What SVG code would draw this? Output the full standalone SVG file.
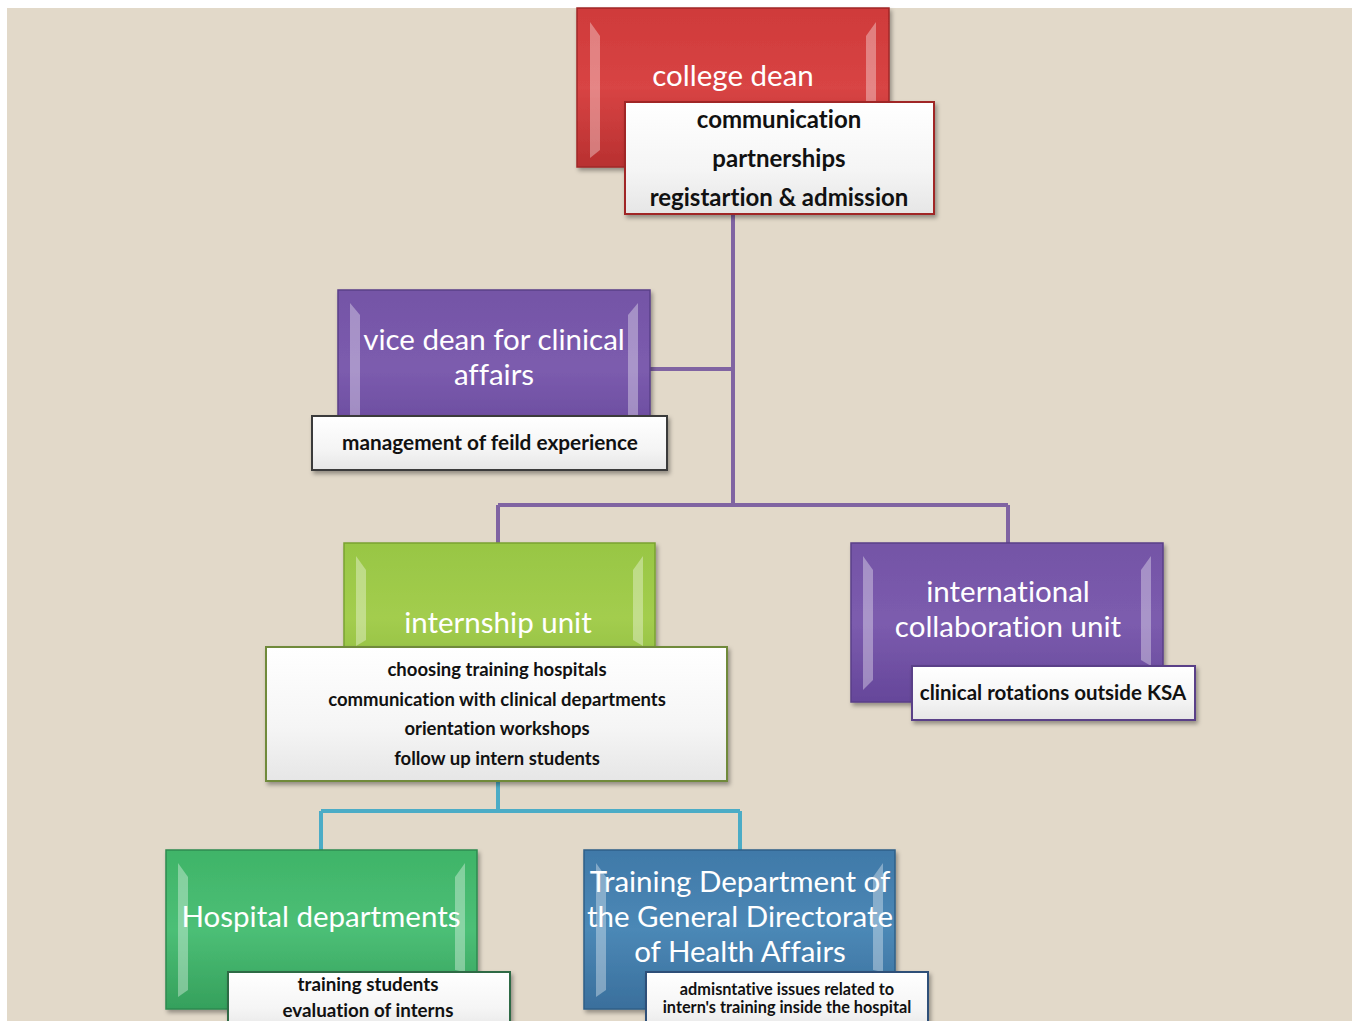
<svg xmlns="http://www.w3.org/2000/svg" width="1359" height="1021" viewBox="0 0 1359 1021">
<defs>
<style>
.t{font-family:Lato,"Open Sans","Liberation Sans",sans-serif;fill:#fff;font-size:29.5px;text-anchor:middle;font-variant-ligatures:none}
.b{font-family:Lato,"Open Sans","Liberation Sans",sans-serif;fill:#111;font-weight:bold;text-anchor:middle;font-variant-ligatures:none}
.cp{fill:none;stroke:#8064a2;stroke-width:4}
.cb{fill:none;stroke:#4bacc6;stroke-width:4}
.hl{fill:#fff;opacity:0.35}
</style>
<linearGradient id="gRed" x1="0" y1="0" x2="0" y2="1"><stop offset="0" stop-color="#cf3a3a"/><stop offset="0.5" stop-color="#d84444"/><stop offset="1" stop-color="#b83030"/></linearGradient>
<linearGradient id="gPur" x1="0" y1="0" x2="0" y2="1"><stop offset="0" stop-color="#7454a6"/><stop offset="0.5" stop-color="#7c5cae"/><stop offset="1" stop-color="#65469a"/></linearGradient>
<linearGradient id="gLime" x1="0" y1="0" x2="0" y2="1"><stop offset="0" stop-color="#98c644"/><stop offset="0.5" stop-color="#a3cd4e"/><stop offset="1" stop-color="#8cb83e"/></linearGradient>
<linearGradient id="gGrn" x1="0" y1="0" x2="0" y2="1"><stop offset="0" stop-color="#3fb468"/><stop offset="0.5" stop-color="#4cbf76"/><stop offset="1" stop-color="#35a05c"/></linearGradient>
<linearGradient id="gBlu" x1="0" y1="0" x2="0" y2="1"><stop offset="0" stop-color="#4079a8"/><stop offset="0.5" stop-color="#4b88b6"/><stop offset="1" stop-color="#3a6f9c"/></linearGradient>
<linearGradient id="gWht" x1="0" y1="0" x2="0" y2="1"><stop offset="0" stop-color="#ffffff"/><stop offset="0.6" stop-color="#f5f5f5"/><stop offset="1" stop-color="#e6e6e6"/></linearGradient>
<filter id="sh" x="-10%" y="-10%" width="130%" height="130%"><feDropShadow dx="2" dy="3" stdDeviation="2" flood-color="#000" flood-opacity="0.35"/></filter>
</defs>
<rect x="0" y="0" width="1359" height="1021" fill="#fff"/>
<rect x="7" y="8" width="1345" height="1013" fill="#e2d9c9"/>

<g id="connectors">
<path class="cp" d="M733 214V505M650 369H733M498 505H1008M498 505V543M1008 505V543"/>
<path class="cb" d="M498 781V811M321 811H740M321 811V850M740 811V850"/>
</g>

<g id="college-dean">
<rect x="577" y="8" width="312" height="159" fill="url(#gRed)" stroke="#a02828" stroke-width="1.5" filter="url(#sh)"/>
<polygon class="hl" points="590,22 600,36 600,150 590,158"/>
<polygon class="hl" points="876,22 866,36 866,150 876,158"/>
<text class="t" x="733" y="86">college dean</text>
<rect x="625" y="102" width="309" height="112" fill="url(#gWht)" stroke="#a02828" stroke-width="2" filter="url(#sh)"/>
<text class="b" x="779" y="128" font-size="24">communication</text>
<text class="b" x="779" y="167" font-size="24">partnerships</text>
<text class="b" x="779" y="206" font-size="24">registartion &amp; admission</text>
</g>

<g id="vice-dean">
<rect x="338" y="290" width="312" height="158" fill="url(#gPur)" stroke="#5a3f88" stroke-width="1.5" filter="url(#sh)"/>
<polygon class="hl" points="350,303 360,315 360,420 350,430"/>
<polygon class="hl" points="638,303 628,315 628,420 638,430"/>
<text class="t" x="494" y="350">vice dean for clinical</text>
<text class="t" x="494" y="385">affairs</text>
<rect x="312" y="416" width="355" height="54" fill="url(#gWht)" stroke="#3a3a3a" stroke-width="2" filter="url(#sh)"/>
<text class="b" x="490" y="450" font-size="20.8">management of feild experience</text>
</g>

<g id="internship-unit">
<rect x="344" y="543" width="311" height="150" fill="url(#gLime)" stroke="#7aa232" stroke-width="1.5" filter="url(#sh)"/>
<polygon class="hl" points="356,556 366,570 366,640 356,646"/>
<polygon class="hl" points="643,556 633,570 633,640 643,646"/>
<text class="t" x="498" y="633">internship unit</text>
<rect x="266" y="647" width="461" height="134" fill="url(#gWht)" stroke="#6f8a3a" stroke-width="2" filter="url(#sh)"/>
<text class="b" x="497" y="676" font-size="18.5">choosing training hospitals</text>
<text class="b" x="497" y="706" font-size="18.5">communication with clinical departments</text>
<text class="b" x="497" y="735" font-size="18.5">orientation workshops</text>
<text class="b" x="497" y="765" font-size="18.5">follow up intern students</text>
</g>

<g id="international-unit">
<rect x="851" y="543" width="312" height="159" fill="url(#gPur)" stroke="#5a3f88" stroke-width="1.5" filter="url(#sh)"/>
<polygon class="hl" points="863,556 873,570 873,680 863,690"/>
<polygon class="hl" points="1151,556 1141,570 1141,660 1151,666"/>
<text class="t" x="1008" y="602">international</text>
<text class="t" x="1008" y="637">collaboration unit</text>
<rect x="912" y="666" width="283" height="54" fill="url(#gWht)" stroke="#5a3f88" stroke-width="2" filter="url(#sh)"/>
<text class="b" x="1053" y="700" font-size="20.5">clinical rotations outside KSA</text>
</g>

<g id="hospital-departments">
<rect x="166" y="850" width="311" height="159" fill="url(#gGrn)" stroke="#2e8a50" stroke-width="1.5" filter="url(#sh)"/>
<polygon class="hl" points="178,863 188,877 188,990 178,997"/>
<polygon class="hl" points="465,863 455,877 455,970 465,972"/>
<text class="t" x="321" y="927">Hospital departments</text>
<rect x="228" y="972" width="282" height="60" fill="url(#gWht)" stroke="#2e6a44" stroke-width="2" filter="url(#sh)"/>
<text class="b" x="368" y="991" font-size="18.8">training students</text>
<text class="b" x="368" y="1017" font-size="18.8">evaluation of interns</text>
</g>

<g id="training-department">
<rect x="584" y="850" width="311" height="159" fill="url(#gBlu)" stroke="#2f5f88" stroke-width="1.5" filter="url(#sh)"/>
<polygon class="hl" points="596,863 606,877 606,990 596,997"/>
<polygon class="hl" points="883,863 873,877 873,970 883,972"/>
<text class="t" x="740" y="892">Training Department of</text>
<text class="t" x="740" y="927">the General Directorate</text>
<text class="t" x="740" y="962">of Health Affairs</text>
<rect x="646" y="972" width="282" height="60" fill="url(#gWht)" stroke="#2f4f78" stroke-width="2" filter="url(#sh)"/>
<text class="b" x="787" y="995" font-size="16.3">admisntative issues related to</text>
<text class="b" x="787" y="1013" font-size="16.3">intern's training inside the hospital</text>
</g>
</svg>
